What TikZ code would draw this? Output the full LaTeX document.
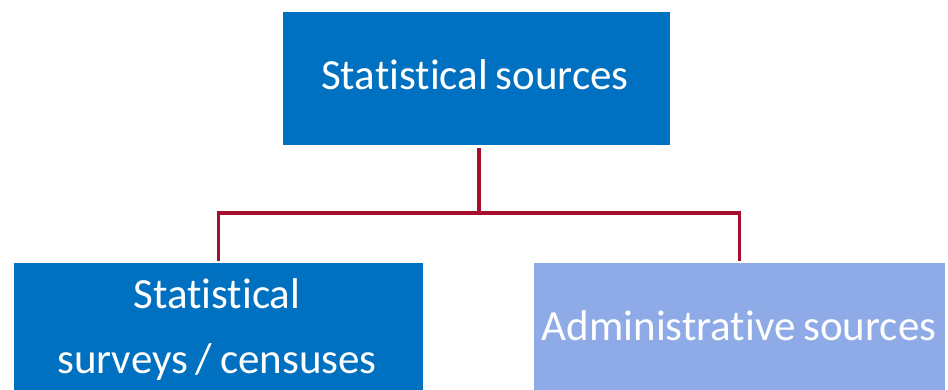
\documentclass[tikz,border=0pt]{standalone}
\usepackage{fontspec}
\setmainfont{Carlito}[WordSpace=0.8,RawFeature={-liga;-calt;-clig;-dlig}]
\definecolor{darkblue}{RGB}{0,112,192}
\definecolor{lightblue}{RGB}{142,171,232}
\definecolor{linered}{RGB}{165,15,45}
\begin{document}
\begin{tikzpicture}[x=1pt,y=-1pt,
  box/.style={draw=none,inner sep=0pt,outer sep=0pt,anchor=north west},
  lbl/.style={text=white,inner sep=0pt,anchor=base,font=\fontsize{43}{50}\selectfont},
  conn/.style={draw=linered,line width=3.3pt}]
\useasboundingbox (0,0) rectangle (948,390);
\node[box,fill=darkblue,minimum width=387pt,minimum height=133pt] (top) at (283,12) {};
\node[box,fill=darkblue,minimum width=409pt,minimum height=127pt] (left) at (14,263) {};
\node[box,fill=lightblue,minimum width=411pt,minimum height=127pt] (right) at (534,263) {};
\node[lbl] (toptext) at (475,90) {Statist\kern0pt ical sources};
\node[lbl] (lefttext1) at (217,308) {Statist\kern0pt ical};
\node[lbl] (lefttext2) at (217,373) {surveys / censuses};
\node[lbl] (righttext) at (739,340) {Administrat\kern0pt ive sources};
\coordinate (junction) at (479,213);
\draw[conn] (479,148) -- (junction);
\draw[conn,shorten >=2pt] (junction) -| (left.north);
\draw[conn,shorten >=2pt] (junction) -| (right.north);
\end{tikzpicture}
\end{document}
